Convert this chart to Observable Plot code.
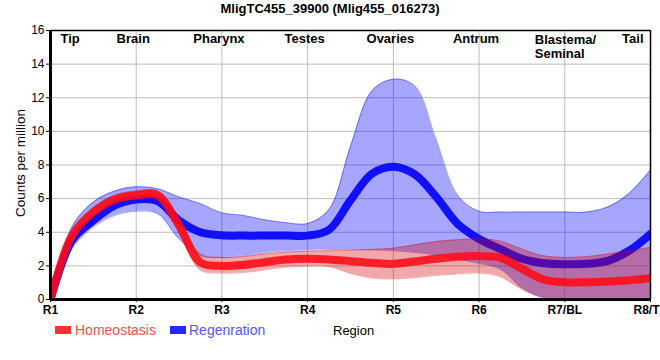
<!DOCTYPE html>
<html><head><meta charset="utf-8">
<script src="https://cdn.jsdelivr.net/npm/d3@7"></script>
<script src="https://cdn.jsdelivr.net/npm/@observablehq/plot@0.6"></script>
<style>
body{margin:0;background:#fff;font-family:"Liberation Sans",Arial,sans-serif;}
#wrap{position:relative;width:660px;height:360px;overflow:hidden;}
#title{position:absolute;left:0;top:1px;width:660px;text-align:center;font-weight:bold;font-size:13px;color:#000;}
#ylab{position:absolute;left:20px;top:163px;transform:translate(-50%,-50%) rotate(-90deg);font-size:13.5px;white-space:nowrap;color:#000;}
.leg{position:absolute;top:322px;font-size:14px;white-space:nowrap;}
.sw{position:absolute;top:326px;width:16px;height:8px;}
#xlab{position:absolute;left:333px;top:323px;font-size:13px;color:#000;}
</style></head>
<body>
<div id="wrap">
  <div id="chart"></div>
  <div id="title"></div>
  <div id="ylab">Counts per million</div>
  <div class="sw" style="left:55px;background:#ff3030;"></div>
  <div class="leg" id="l1" style="left:75px;color:#ff4d4d;"></div>
  <div class="sw" style="left:170px;background:#2828ff;"></div>
  <div class="leg" id="l2" style="left:189px;color:#5555ff;"></div>
  <div id="xlab">Region</div>
</div>
<script>
const title = "MligTC455_39900 (Mlig455_016273)";
const regions = ["R1","R2","R3","R4","R5","R6","R7/BL","R8/T"];
const regionNames = ["Tip","Brain","Pharynx","Testes","Ovaries","Antrum","Blastema/\nSeminal","Tail"];
const seriesNames = ["Homeostasis","Regenration"];
const yTicks = [0,2,4,6,8,10,12,14,16];
const boundary = [7.5];

// sample positions along the region axis (region index)
const pos = [0,0.25,0.5,0.75,1,1.25,1.5,1.75,2,2.25,2.5,2.75,3,3.25,3.5,3.75,4,4.25,4.5,4.75,5,5.25,5.5,5.75,6,6.25,6.5,6.75,7];

const homeo   = [0,3.8,5.2,5.95,6.2,6.2,4.4,2.2,2.0,2.06,2.22,2.38,2.42,2.38,2.28,2.18,2.12,2.26,2.42,2.54,2.58,2.48,1.83,1.19,1.03,1.03,1.07,1.15,1.27];
const homeoHi = [0,4.0,5.45,6.2,6.45,6.45,4.8,2.7,2.5,2.55,2.7,2.82,2.87,2.9,2.92,2.98,3.05,3.25,3.45,3.55,3.6,3.47,3.0,2.6,2.5,2.55,2.7,2.9,3.1];
const homeoLo = [0,3.6,5.0,5.75,5.95,5.95,4.0,1.75,1.57,1.6,1.75,1.92,1.98,1.95,1.55,1.28,1.22,1.3,1.43,1.52,1.57,1.35,0.6,0.1,0,0,0,0,0];

const regen   = [0,3.5,4.7,5.6,5.95,5.85,4.7,4.0,3.82,3.8,3.8,3.8,3.8,4.15,5.9,7.48,7.9,7.44,6.1,4.5,3.6,3.0,2.42,2.16,2.1,2.12,2.3,2.9,3.9];
const regenHi = [0,4.3,5.8,6.45,6.7,6.58,6.1,5.7,5.15,5.0,4.74,4.56,4.52,5.35,9.1,12.4,13.1,12.7,9.5,6.2,5.25,5.2,5.2,5.2,5.2,5.2,5.5,6.3,7.7];
const regenLo = [0,3.0,4.3,5.0,5.25,5.1,3.6,2.6,2.5,2.6,2.78,2.9,2.95,2.97,2.98,2.95,2.9,2.8,2.65,2.4,2.15,1.8,0.7,0.1,0,0,0,0,0];

document.getElementById("title").textContent = title;
document.getElementById("l1").textContent = seriesNames[0];
document.getElementById("l2").textContent = seriesNames[1];

const table = pos.map((x,i)=>({x, h:homeo[i], hHi:homeoHi[i], hLo:homeoLo[i], r:regen[i], rHi:regenHi[i], rLo:regenLo[i]}));
const labels = regionNames.map((n,i)=>({n,i}));
const catIdx = regions.map((_,i)=>i);
const mid = labels.filter(d=>d.i>0 && d.i<6);
const lastTick = [{i: regions.length-1, t: regions[regions.length-1]}];
const curve = "catmull-rom";

const chart = Plot.plot({
  width: 660, height: 360,
  marginLeft: 50, marginRight: 10, marginTop: 30, marginBottom: 61,
  style: {fontFamily: "Liberation Sans, Arial, sans-serif", color: "#000", background: "#fff"},
  x: {domain: [0,7]},
  y: {domain: [0,16]},
  marks: [
    Plot.gridX(catIdx.slice(1,7), {stroke: "#bdbdbd", strokeOpacity: 1, strokeWidth: 1}),
    Plot.gridY(yTicks.slice(1,8), {stroke: "#bdbdbd", strokeOpacity: 1, strokeWidth: 1}),
    Plot.areaY(table, {x: "x", y1: "rLo", y2: "rHi", curve, fill: "#0000ff", fillOpacity: 0.35, clip: true}),
    Plot.lineY(table, {x: "x", y: "rHi", curve, stroke: "#0000ff", strokeOpacity: 0.35, strokeWidth: 1, clip: true}),
    Plot.lineY(table, {x: "x", y: "rLo", curve, stroke: "#0000ff", strokeOpacity: 0.35, strokeWidth: 1, clip: true}),
    Plot.lineY(table, {x: "x", y: "r", curve, stroke: "#1010ff", strokeWidth: 8, clip: true}),
    Plot.areaY(table, {x: "x", y1: "hLo", y2: "hHi", curve, fill: "#d30000", fillOpacity: 0.34, clip: true}),
    Plot.lineY(table, {x: "x", y: "hHi", curve, stroke: "#d30000", strokeOpacity: 0.3, strokeWidth: 1, clip: true}),
    Plot.lineY(table, {x: "x", y: "hLo", curve, stroke: "#d30000", strokeOpacity: 0.3, strokeWidth: 1, clip: true}),
    Plot.lineY(table, {x: "x", y: "h", curve, stroke: "#ff0a14", strokeOpacity: 0.88, strokeWidth: 8, clip: true}),
    Plot.ruleX(boundary, {y1: -0.25, y2: 16, stroke: "#000", strokeWidth: 2.5, strokeDasharray: "7,5"}),
    Plot.ruleY([16], {stroke: "#000", strokeWidth: 1.5}),
    Plot.ruleX([7], {stroke: "#000", strokeWidth: 1.5}),
    Plot.ruleX([0], {stroke: "#000", strokeWidth: 3}),
    Plot.ruleY([0], {stroke: "#000", strokeWidth: 3}),
    Plot.axisX({ticks: catIdx, tickFormat: i => i === regions.length-1 ? "" : regions[i], label: null, tickSize: 3, tickPadding: 3, fontSize: 12, fontWeight: "bold"}),
    Plot.text(lastTick, {x: "i", text: "t", frameAnchor: "bottom", lineAnchor: "top", textAnchor: "end", dx: 9, dy: 6, fontSize: 12, fontWeight: "bold"}),
    Plot.axisY({ticks: yTicks, label: null, tickSize: 4, tickPadding: 2, fontSize: 12}),
    Plot.text(labels.filter(d=>d.i===0), {x: "i", text: "n", frameAnchor: "top", lineAnchor: "top", textAnchor: "start", dx: 10, dy: 3, fontSize: 13, fontWeight: "bold"}),
    Plot.text(mid, {x: "i", text: "n", frameAnchor: "top", lineAnchor: "top", dx: -3, dy: 3, fontSize: 13, fontWeight: "bold"}),
    Plot.text(labels.filter(d=>d.i===6), {x: "i", text: "n", frameAnchor: "top", lineAnchor: "top", textAnchor: "start", dx: -30, dy: 3, fontSize: 13, fontWeight: "bold", lineHeight: 1.12}),
    Plot.text(labels.filter(d=>d.i===7), {x: "i", text: "n", frameAnchor: "top", lineAnchor: "top", textAnchor: "end", dx: -7, dy: 3, fontSize: 13, fontWeight: "bold"})
  ]
});
document.getElementById("chart").appendChild(chart);
</script>
</body></html>
